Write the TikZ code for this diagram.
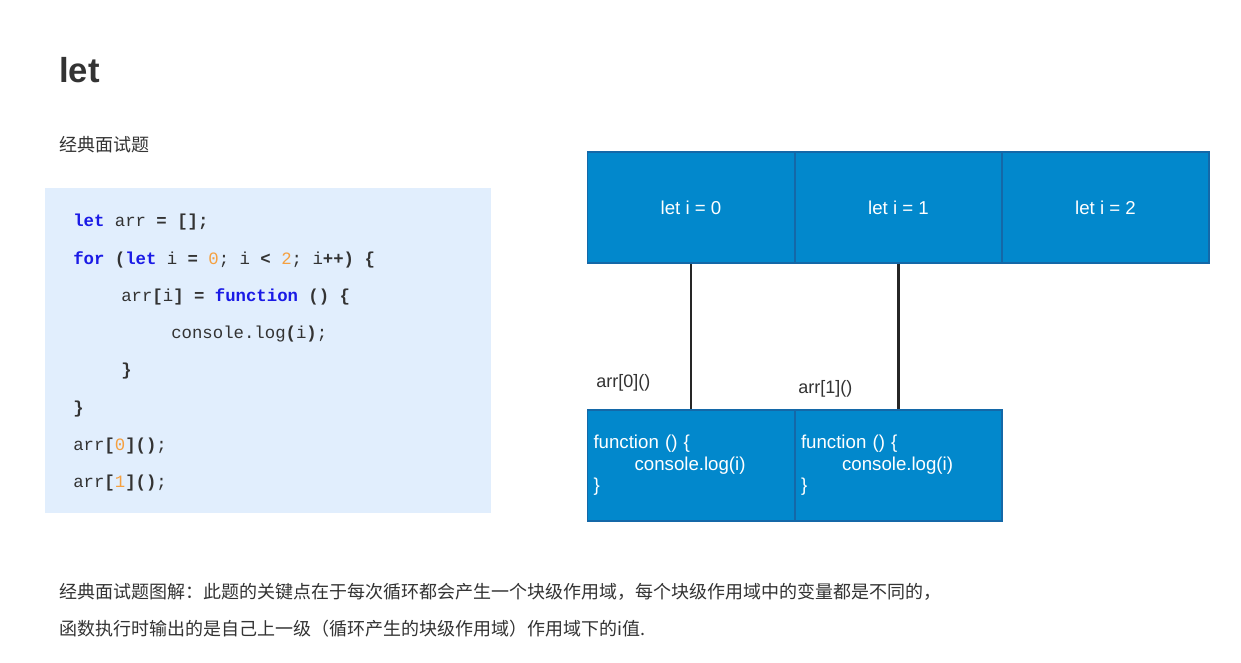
\documentclass[tikz,border=0pt]{standalone}
\usepackage{fontspec}
\setmainfont{Liberation Sans}
\newfontfamily\cjk{Noto Sans CJK SC}
\newfontfamily\cmono{Liberation Mono}
\definecolor{bx}{HTML}{0288CC}
\definecolor{bxd}{HTML}{1468A8}
\definecolor{codebg}{HTML}{E1EEFD}
\definecolor{kw}{HTML}{1A1AE6}
\definecolor{num}{HTML}{F5A040}
\definecolor{txt}{HTML}{333333}
\begin{document}
\begin{tikzpicture}[x=0.75pt,y=-0.75pt,
  blk/.style={draw=bxd,line width=1.2pt,fill=bx,minimum width=207*0.75pt,minimum height=111*0.75pt,inner sep=0pt,text=white,font=\fontsize{14}{16}\selectfont},
  code/.style={anchor=west,inner sep=0pt,font=\cmono\fontsize{13}{15}\selectfont,text=txt},
  lbl/.style={anchor=west,inner sep=0pt,font=\fontsize{13.5}{16}\selectfont,text=txt}]
\useasboundingbox (0,0) rectangle (1241,663);
\fill[white] (0,0) rectangle (1241,663);
\node[anchor=west,inner sep=0pt,font=\bfseries\fontsize{26}{30}\selectfont,text=txt] (title) at (59,70) {let};
\node[anchor=west,inner sep=0pt,font=\cjk\fontsize{13.5}{16}\selectfont,text=txt] (sub) at (59,145) {经典面试题};
\fill[codebg] (45,188) rectangle (491,513);
\node[code] (c1) at (73,222) {\textcolor{kw}{\bfseries let} arr \textbf{= [];}};
\node[code] (c2) at (73,260) {\textcolor{kw}{\bfseries for} \textbf{(}\textcolor{kw}{\bfseries let} i \textbf{=} \textcolor{num}{0}; i \textbf{<} \textcolor{num}{2}; i\textbf{++) \{}};
\node[code] (c3) at (121,297) {arr\textbf{[}i\textbf{]} \textbf{=} \textcolor{kw}{\bfseries function} \textbf{() \{}};
\node[code] (c4) at (171,334) {console.log\textbf{(}i\textbf{)};};
\node[code] (c5) at (121,371) {\textbf{\}}};
\node[code] (c6) at (73,409) {\textbf{\}}};
\node[code] (c7) at (73,446) {arr\textbf{[}\textcolor{num}{0}\textbf{]()};};
\node[code] (c8) at (73,483) {arr\textbf{[}\textcolor{num}{1}\textbf{]()};};
\node[blk] (t0) at (691,207.5) {let i = 0};
\node[blk] (t1) at (898.5,207.5) {let i = 1};
\node[blk] (t2) at (1105.5,207.5) {let i = 2};
\node[blk,align=left,text width=195*0.75pt] (f0) at (691,465.5) {function () \{\\\hspace*{2.2em}console.log(i)\\\}};
\node[blk,align=left,text width=195*0.75pt] (f1) at (898.5,465.5) {function () \{\\\hspace*{2.2em}console.log(i)\\\}};
\draw[line width=1.8pt,black!85] (t0.south) -- (f0.north);
\draw[line width=1.8pt,black!85] (t1.south) -- (f1.north);
\node[lbl] (l0) at (596,383) {arr[0]()};
\node[lbl] (l1) at (798,389) {arr[1]()};
\node[anchor=west,inner sep=0pt,font=\cjk\fontsize{13.5}{16}\selectfont,text=txt] (n1) at (59,592) {经典面试题图解：此题的关键点在于每次循环都会产生一个块级作用域，每个块级作用域中的变量都是不同的，};
\node[anchor=west,inner sep=0pt,font=\cjk\fontsize{13.5}{16}\selectfont,text=txt] (n2) at (59,629) {函数执行时输出的是自己上一级（循环产生的块级作用域）作用域下的i值.};
\end{tikzpicture}
\end{document}
